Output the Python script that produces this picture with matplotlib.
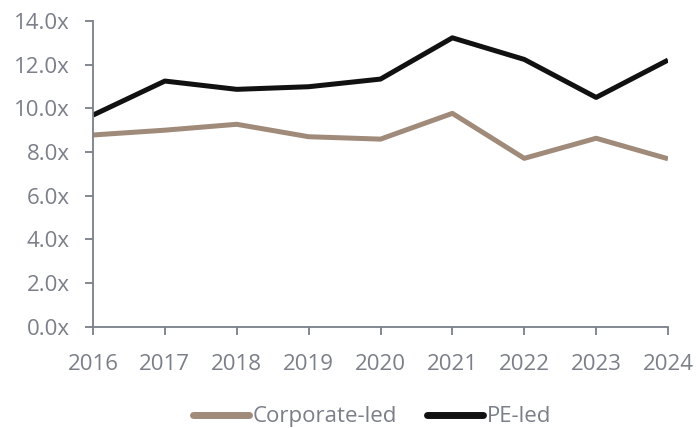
import matplotlib.pyplot as plt
from matplotlib.ticker import FuncFormatter

# Multiples by year
years = [2016, 2017, 2018, 2019, 2020, 2021, 2022, 2023, 2024]
corporate_led = [8.78, 9.00, 9.27, 8.70, 8.59, 9.77, 7.71, 8.63, 7.69]
pe_led = [9.69, 11.25, 10.87, 10.99, 11.34, 13.23, 12.24, 10.50, 12.21]

grey = '#7a7f88'
plt.rcParams['font.family'] = ['Open Sans', 'DejaVu Sans']

fig = plt.figure(figsize=(6.96, 4.28), dpi=100)
ax = fig.add_axes([93 / 696, 1 - 326.7 / 428, (668 - 93) / 696, (326.7 - 21) / 428])

ax.plot(years, corporate_led, color='#a08a7a', lw=3.6, label='Corporate-led', solid_capstyle='butt')
ax.plot(years, pe_led, color='#111111', lw=3.6, label='PE-led', solid_capstyle='butt')

ax.set_xlim(2016, 2024)
ax.set_ylim(0, 14)
ax.set_xticks(years)
ax.set_yticks(range(0, 15, 2))
ax.yaxis.set_major_formatter(FuncFormatter(lambda v, p: f'{v:.1f}x'))

for s in ['top', 'right']:
    ax.spines[s].set_visible(False)
for s in ['left', 'bottom']:
    ax.spines[s].set_color(grey)
    ax.spines[s].set_linewidth(1.3)
ax.tick_params(colors=grey, labelsize=16, length=6, width=1.3, direction='out')
ax.tick_params(axis='x', pad=14)
ax.tick_params(axis='y', pad=11)

leg = fig.legend(loc='center', bbox_to_anchor=(0.535, 0.026), ncol=2, frameon=False,
                 fontsize=16, handlelength=2.5, handletextpad=0.2, columnspacing=1.35,
                 labelcolor=grey, borderpad=0.1)
for h in leg.get_lines():
    h.set_linewidth(5)
    h.set_solid_capstyle('round')

fig.savefig('out.png', dpi=100)
